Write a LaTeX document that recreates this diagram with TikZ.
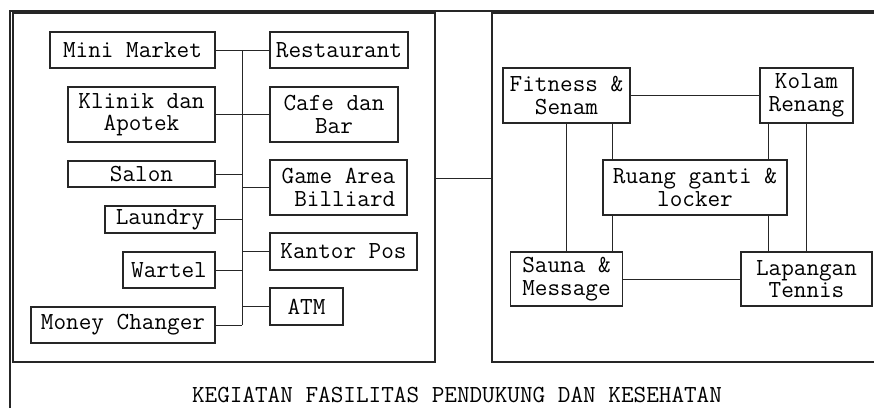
\documentclass[tikz,border=0pt]{standalone}
\begin{document}
\begin{tikzpicture}[x=1pt,y=-1pt,
  box/.style={draw=black!85,line width=1.1pt,inner sep=0pt,align=center,
    font=\ttfamily\fontsize{24.5}{22.5}\selectfont},
  wire/.style={draw=black!85,line width=0.9pt},
  frame/.style={draw=black!85,line width=1.1pt}]
\useasboundingbox (0,0) rectangle (874,408);
% outer frame
\draw[frame] (10,408) -- (10,11) -- (874,11);
% left and right group boxes
\draw[frame] (13,13) rectangle (435,362);
\coordinate (lgE) at (435,178);
\coordinate (rgW) at (492,178);
\draw[frame] (874,13) -- (492,13) -- (492,362) -- (874,362);
% left nodes
\node[box,minimum width=165pt,minimum height=36pt] (mm) at (132.5,50) {Mini Market};
\node[box,minimum width=138pt,minimum height=36pt] (rest) at (339,50) {Restaurant};
\node[box,minimum width=147pt,minimum height=55pt] (klin) at (141.5,114.5) {Klinik dan\\Apotek};
\node[box,minimum width=128pt,minimum height=55pt] (cafe) at (334,114.5) {Cafe dan\\Bar};
\node[box,minimum width=147pt,minimum height=26pt] (salon) at (141.5,174) {Salon};
\node[box,minimum width=137pt,minimum height=55pt,align=left] (game) at (338.5,187.5) {Game Area\\\hphantom{B}Billiard};
\node[box,minimum width=110pt,minimum height=27pt] (laun) at (160,219.5) {Laundry};
\node[box,minimum width=147pt,minimum height=37pt] (kpos) at (343.5,251.5) {Kantor Pos};
\node[box,minimum width=92pt,minimum height=36pt] (wart) at (169,270) {Wartel};
\node[box,minimum width=73pt,minimum height=37pt] (atm) at (306.5,306.5) {ATM};
\node[box,minimum width=184pt,minimum height=36pt] (money) at (123,325) {Money Changer};
% bus
\coordinate (busT) at (242,50);
\coordinate (busB) at (242,325);
\draw[wire] (mm.east) -- (rest.west);
\draw[wire] (busT) -- (busB);
\draw[wire] (klin.east) -- (cafe.west);
\draw[wire] (salon.east) -- (salon.east -| busT);
\draw[wire] (game.west -| busT) -- (game.west);
\draw[wire] (laun.east) -- (laun.east -| busT);
\draw[wire] (kpos.west -| busT) -- (kpos.west);
\draw[wire] (wart.east) -- (wart.east -| busT);
\draw[wire] (atm.west -| busT) -- (atm.west);
\draw[wire] (money.east) -- (busB);
% link between groups
\draw[wire] (lgE) -- (rgW);
% right nodes
\node[box,minimum width=127pt,minimum height=55pt] (fit) at (566.5,95.5) {Fitness \&\\Senam};
\node[box,minimum width=93pt,minimum height=55pt] (kol) at (806.5,95.5) {Kolam\\Renang};
\node[box,minimum width=184pt,minimum height=55pt] (ruang) at (695,187.5) {Ruang ganti \&\\locker};
\node[box,minimum width=112pt,minimum height=54pt] (sauna) at (566.5,279) {Sauna \&\\Message};
\node[box,minimum width=131pt,minimum height=54pt] (lap) at (806.5,279) {Lapangan\\Tennis};
\draw[wire] (fit.east) -- (kol.west);
\draw[wire] (fit.south) -- (sauna.north);
\draw[wire] ([xshift=10pt]ruang.north west) -- ([xshift=10pt]ruang.north west |- fit.south);
\draw[wire] ([xshift=10pt]ruang.south west) -- ([xshift=10pt]ruang.south west |- sauna.north);
\draw[wire] ([xshift=9pt]kol.south west) -- ([xshift=9pt]kol.south west |- ruang.north);
\draw[wire] ([xshift=9pt]kol.south west |- ruang.south) -- ([xshift=9pt]kol.south west |- lap.north);
\draw[wire] (kol.south) -- (lap.north);
\draw[wire] (sauna.east) -- (lap.west);
% caption
\node[font=\ttfamily\fontsize{24.5}{22.5}\selectfont,inner sep=0pt] (cap) at (457,395) {KEGIATAN FASILITAS PENDUKUNG DAN KESEHATAN};
\end{tikzpicture}
\end{document}
